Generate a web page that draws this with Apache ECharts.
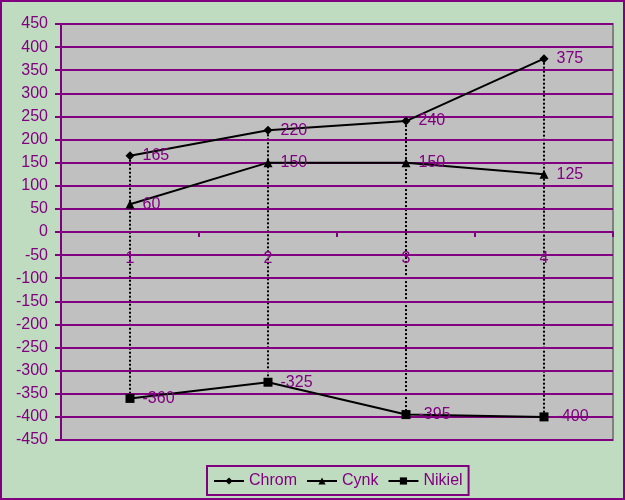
<!DOCTYPE html>
<html><head><meta charset="utf-8">
<script src="https://cdn.jsdelivr.net/npm/echarts@6/dist/echarts.min.js"></script>
<style>html,body{margin:0;padding:0;background:#c0dcc0}#c{width:625px;height:500px}</style>
</head><body><div id="c"></div>
<script>
var categories = ['1', '2', '3', '4'];
var chrom = [165, 220, 240, 375];
var cynk = [60, 150, 150, 125];
var nikiel = [-360, -325, -395, -400];
var seriesNames = ['Chrom', 'Cynk', 'Nikiel'];

var purple = '#800080';
var font = '"Liberation Sans", Arial, sans-serif';
var chart = echarts.init(document.getElementById('c'));

var dropData = categories.map(function (c, i) {
  var vals = [chrom[i], cynk[i], nikiel[i]];
  return [i, Math.max.apply(null, vals), Math.min.apply(null, vals)];
});
var catLabelData = categories.map(function (c, i) { return [i, 0]; });

var labelCfg = {
  show: true, position: 'right', distance: 8, color: purple,
  fontFamily: font, fontSize: 16,
  textShadowColor: '#ffffff', textShadowOffsetX: 1, textShadowOffsetY: 1, textShadowBlur: 0
};

function lineSeries(name, data, symbol, size) {
  return {
    name: name, type: 'line', data: data, symbol: symbol, symbolSize: size,
    lineStyle: { color: '#000', width: 2 },
    itemStyle: { color: '#000' },
    label: labelCfg, z: 5, animation: false
  };
}

chart.setOption({
  animation: false,
  backgroundColor: '#c0dcc0',
  textStyle: { fontFamily: font },
  graphic: [{
    type: 'rect', shape: { x: 1, y: 1, width: 623, height: 498 },
    style: { fill: 'none', stroke: purple, lineWidth: 2 }, z: 100
  }],
  grid: [
    { left: 61, right: 12, top: 24, bottom: 60, show: true, backgroundColor: '#c0c0c0', borderWidth: 0 },
    { left: 61, right: 12, top: 24, bottom: 60, show: true, backgroundColor: 'transparent', borderColor: '#808080', borderWidth: 2, z: 3 }
  ],
  legend: {
    left: 207, top: 466,
    padding: [7, 6, 6, 6],
    borderColor: purple, borderWidth: 2,
    itemWidth: 30, itemHeight: 9, itemGap: 9,
    textStyle: { color: purple, fontSize: 16, fontFamily: font },
    data: seriesNames
  },
  xAxis: {
    type: 'category', data: categories, boundaryGap: true, gridIndex: 0,
    axisLine: { show: true, onZero: true, lineStyle: { color: purple, width: 2 } },
    axisTick: { show: true, inside: false, length: 5, lineStyle: { color: purple, width: 2 } },
    axisLabel: { show: false },
    splitLine: { show: false },
    z: 4
  },
  yAxis: {
    type: 'value', min: -450, max: 450, interval: 50, gridIndex: 0,
    axisLine: { show: true, lineStyle: { color: purple, width: 2 } },
    axisTick: { show: true, length: 6, lineStyle: { color: purple, width: 2 } },
    axisLabel: { color: purple, fontSize: 16, fontFamily: font, margin: 13 },
    splitLine: { show: true, lineStyle: { color: purple, width: 2 } },
    z: 4
  },
  series: [
    {
      type: 'custom', data: dropData, z: 2, silent: true, animation: false,
      renderItem: function (params, api) {
        var p1 = api.coord([api.value(0), api.value(1)]);
        var p2 = api.coord([api.value(0), api.value(2)]);
        return {
          type: 'line', shape: { x1: p1[0], y1: p1[1], x2: p2[0], y2: p2[1] },
          style: { stroke: '#000', lineWidth: 2, lineDash: [2, 2] }
        };
      }
    },
    {
      type: 'custom', data: catLabelData, z: 6, silent: true, animation: false,
      renderItem: function (params, api) {
        var p = api.coord([api.value(0), api.value(1)]);
        return {
          type: 'text', x: p[0], y: p[1] + 27,
          style: {
            text: categories[params.dataIndex], fill: purple, font: '16px ' + font,
            align: 'center', verticalAlign: 'middle'
          }
        };
      }
    },
    lineSeries('Chrom', chrom, 'diamond', 9),
    lineSeries('Cynk', cynk, 'triangle', 9),
    lineSeries('Nikiel', nikiel, 'rect', 9)
  ]
});
</script></body></html>
